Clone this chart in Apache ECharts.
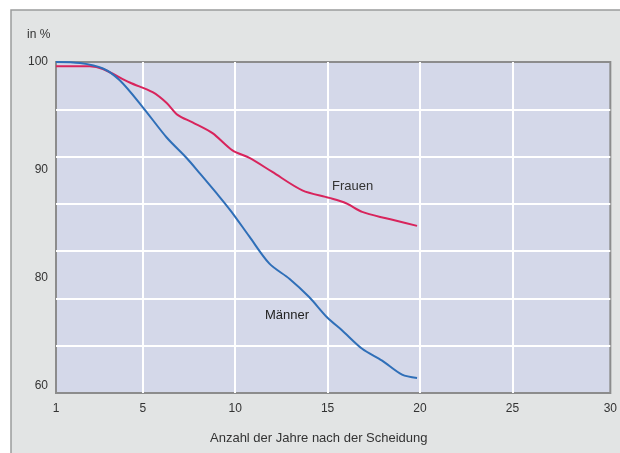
<!DOCTYPE html>
<html>
<head>
<meta charset="utf-8">
<script src="https://cdn.jsdelivr.net/npm/echarts@6/dist/echarts.min.js"></script>
<style>
html, body { margin: 0; padding: 0; background: #fff; }
#main { width: 620px; height: 453px; }
</style>
</head>
<body>
<div id="main"></div>
<script>
// Achsen (wie im Bild: "1" am linken Rand, "60" unten)
var xTickValues = [0.3, 5, 10, 15, 20, 25, 30.3];
var xTickLabels = ['1', '5', '10', '15', '20', '25', '30'];
var yTickValues = [70, 80, 90, 100];
var yTickLabels = ['60', '80', '90', '100'];

// Männer
var maennerX = [0.3, 1.6, 2.84, 3.75, 5.0, 6.29, 7.37, 8.07, 9.15, 9.8, 10.77, 11.85, 12.93, 14.0, 14.98, 15.79, 16.87, 17.95, 19.03, 19.84];
var maennerY = [100, 99.9, 99.4, 98.3, 95.8, 93.0, 91.1, 89.7, 87.5, 86.1, 83.8, 81.3, 79.9, 78.2, 76.3, 75.1, 73.4, 72.3, 71.0, 70.7];

// Frauen
var frauenX = [0.3, 2.13, 2.84, 4.29, 5.53, 6.29, 6.88, 7.69, 8.77, 9.85, 10.77, 12.01, 13.63, 15.09, 16.0, 16.87, 18.16, 19.84];
var frauenY = [99.6, 99.6, 99.35, 98.1, 97.2, 96.2, 95.1, 94.4, 93.4, 91.8, 91.1, 89.8, 88.1, 87.4, 86.9, 86.1, 85.5, 84.8];

function pairs(xs, ys) {
	return xs.map(function (x, i) { return [x, ys[i]]; });
}
function labelFor(values, labels) {
	return function (v) {
		var i = values.indexOf(v);
		return i >= 0 ? labels[i] : '';
	};
}

var chart = echarts.init(document.getElementById('main'));

var option = {
	backgroundColor: '#fff',
	animation: false,
	textStyle: { fontFamily: 'Liberation Sans, Arial, sans-serif' },
	graphic: [{
		type: 'rect',
		z: -10,
		silent: true,
		shape: { x: 11, y: 10, width: 620, height: 460 },
		style: { fill: '#e2e4e4', stroke: '#9a9c9c', lineWidth: 1.5 }
	}, {
		type: 'text',
		left: 27, top: 29,
		style: { text: 'in %', fill: '#333', font: '12px "Liberation Sans", Arial, sans-serif' }
	}, {
		type: 'text',
		left: 332, top: 180,
		style: { text: 'Frauen', fill: '#333', font: '13px "Liberation Sans", Arial, sans-serif' }
	}, {
		type: 'text',
		left: 265, top: 309,
		style: { text: 'Männer', fill: '#222', font: '13px "Liberation Sans", Arial, sans-serif' }
	}, {
		type: 'text',
		left: 210, top: 432,
		style: { text: 'Anzahl der Jahre nach der Scheidung', fill: '#333', font: '13px "Liberation Sans", Arial, sans-serif' }
	}],
	grid: {
		left: 56, right: 5, top: 62, bottom: 60,
		show: true,
		backgroundColor: '#d4d8e9',
		borderColor: '#8c8c8c',
		borderWidth: 2
	},
	xAxis: [{
		type: 'value',
		min: 0.3,
		max: 30.3,
		axisLine: { show: false },
		axisTick: { show: false, customValues: [5, 10, 15, 20, 25] },
		splitLine: { show: true, lineStyle: { color: '#ffffff', width: 2 } },
		axisLabel: {
			customValues: xTickValues,
			formatter: labelFor(xTickValues, xTickLabels),
			color: '#333',
			fontSize: 12,
			margin: 10,
			showMinLabel: true,
			showMaxLabel: true
		}
	}],
	yAxis: [{
		type: 'value',
		min: 69.3,
		max: 100,
		axisLine: { show: false },
		axisTick: { show: false },
		splitLine: { show: false },
		axisLabel: {
			customValues: yTickValues,
			formatter: labelFor(yTickValues, yTickLabels),
			color: '#333',
			fontSize: 12,
			margin: 8
		}
	}, {
		type: 'value',
		min: 0,
		max: 7,
		interval: 1,
		axisLine: { show: false },
		axisTick: { show: false },
		axisLabel: { show: false },
		splitLine: {
			show: true,
			showMinLine: false,
			showMaxLine: false,
			lineStyle: { color: '#ffffff', width: 2 }
		}
	}],
	series: [{
		name: 'Frauen',
		type: 'line',
		data: pairs(frauenX, frauenY),
		showSymbol: false,
		smooth: 0.3,
		lineStyle: { color: '#d8245c', width: 2 },
		z: 3
	}, {
		name: 'Männer',
		type: 'line',
		data: pairs(maennerX, maennerY),
		showSymbol: false,
		smooth: 0.3,
		lineStyle: { color: '#2f6fb8', width: 2 },
		z: 4
	}]
};

chart.setOption(option);
</script>
</body>
</html>
